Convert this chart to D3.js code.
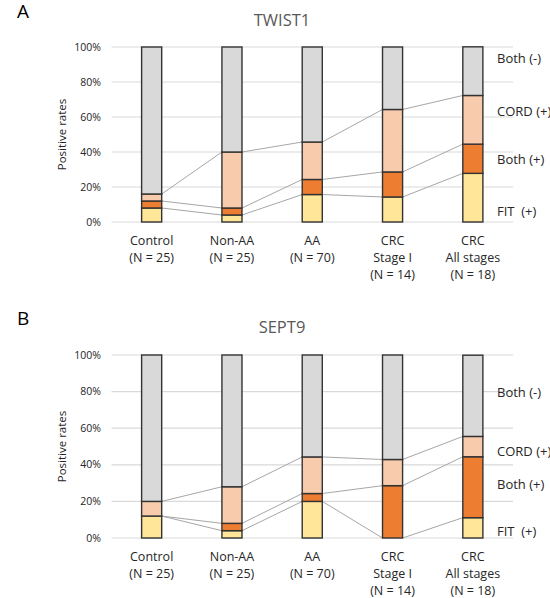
<!DOCTYPE html>
<html><head><meta charset="utf-8">
<script src="https://cdn.jsdelivr.net/npm/d3@7"></script>
<style>body{margin:0;background:#fff}svg{display:block}text{font-family:"Open Sans",sans-serif}</style>
</head><body>
<script>
const categoryLines = [["Control","(N = 25)"],["Non-AA","(N = 25)"],["AA","(N = 70)"],["CRC","Stage I","(N = 14)"],["CRC","All stages","(N = 18)"]];
const seriesNames = ["FIT  (+)","Both (+)","CORD (+)","Both (-)"];
const tickValues = [0,20,40,60,80,100];
const tickLabels = ["0%","20%","40%","60%","80%","100%"];

const twistFIT  = [8, 4, 15.7, 14.3, 27.8];
const twistBoth = [4, 4, 8.6, 14.3, 16.7];
const twistCORD = [4, 32, 21.4, 35.7, 27.8];
const twistNeg  = [84, 60, 54.3, 35.7, 27.8];

const septFIT  = [12, 4, 20, 0, 11.1];
const septBoth = [0, 4, 4.3, 28.6, 33.3];
const septCORD = [8, 20, 20, 14.3, 11.1];
const septNeg  = [80, 72, 55.7, 57.1, 44.4];

const colors = ["#FFE699","#ED7D31","#F8CBAD","#D9D9D9"];

const panels = [
  {letter:"A", title:"TWIST1", series:[twistFIT,twistBoth,twistCORD,twistNeg], top:47, bottom:222, titleY:26, letterY:18, labelY:[6.3,36,62.9,93.7]},
  {letter:"B", title:"SEPT9", series:[septFIT,septBoth,septCORD,septNeg], top:355, bottom:538, titleY:333, letterY:325, labelY:[3.8,29,47.5,79.8]}
];

const svg = d3.select("body").append("svg").attr("width",550).attr("height",598);
const X0 = 111.5, X1 = 513;

panels.forEach(p => {
  const g = svg.append("g");
  const x = d3.scaleBand().domain(d3.range(categoryLines.length)).range([X0,X1]).paddingInner(0.75).paddingOuter(0.375);
  const y = d3.scaleLinear().domain([0,100]).range([p.bottom,p.top]);
  const bw = x.bandwidth();

  g.append("text").attr("x",17).attr("y",p.letterY).attr("font-size",19).attr("fill","#000").text(p.letter);
  g.append("text").attr("x",282).attr("y",p.titleY).attr("text-anchor","middle").attr("font-size",16.5).attr("fill","#595959").text(p.title);

  g.selectAll(".grid").data(tickValues).join("line")
    .attr("x1",X0).attr("x2",X1).attr("y1",d=>y(d)).attr("y2",d=>y(d))
    .attr("stroke","#d9d9d9").attr("stroke-width",1.2);
  g.selectAll(".tick").data(tickValues).join("text")
    .attr("x",101).attr("y",d=>y(d)).attr("dy","0.35em").attr("text-anchor","end")
    .attr("font-size",10.5).attr("fill","#262626").text((d,i)=>tickLabels[i]);
  g.append("text").attr("transform",`translate(66,${(p.top+p.bottom)/2}) rotate(-90)`)
    .attr("text-anchor","middle").attr("font-size",11.5).attr("fill","#262626").text("Positive rates");

  const stacked = d3.stack().keys([0,1,2,3]).value((d,k)=>p.series[k][d])(d3.range(categoryLines.length));

  for (let k=0;k<3;k++){
    for (let i=0;i<categoryLines.length-1;i++){
      g.append("line")
        .attr("x1",x(i)+bw).attr("y1",y(stacked[k][i][1]))
        .attr("x2",x(i+1)).attr("y2",y(stacked[k][i+1][1]))
        .attr("stroke","#a6a6a6").attr("stroke-width",1);
    }
  }

  stacked.forEach((layer,k)=>{
    g.selectAll(null).data(layer).join("rect")
      .attr("x",(d,i)=>x(i)).attr("width",bw)
      .attr("y",d=>y(d[1])).attr("height",d=>Math.max(0,y(d[0])-y(d[1])))
      .attr("fill",colors[k]).attr("stroke","#333").attr("stroke-width",1.4);
  });

  categoryLines.forEach((lines,i)=>{
    const t = g.append("text").attr("text-anchor","middle").attr("font-size",12.5).attr("fill","#262626");
    lines.forEach((l,j)=>t.append("tspan").attr("x",x(i)+bw/2).attr("y",p.bottom+23+j*17).text(l));
  });

  seriesNames.forEach((s,k)=>{
    g.append("text").attr("x",497).attr("y",y(p.labelY[k])).attr("dy","0.35em")
      .attr("font-size",13).attr("fill","#262626").style("white-space","pre").text(s);
  });
});
</script>
</body></html>
